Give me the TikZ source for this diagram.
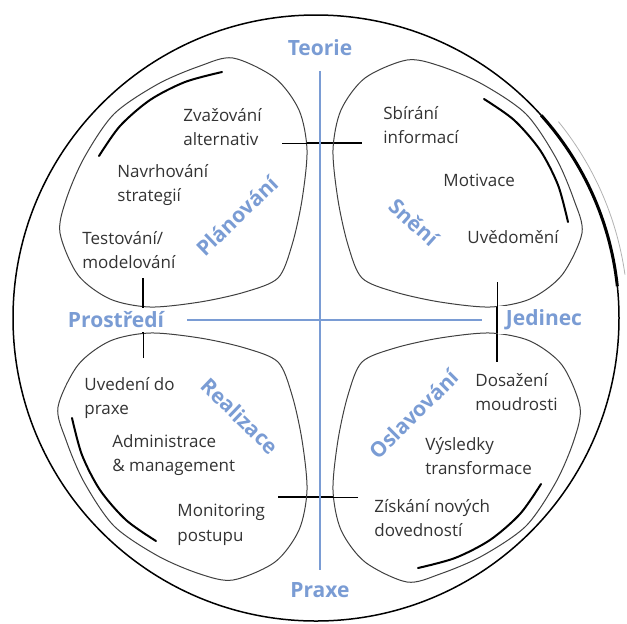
\documentclass[tikz,border=0pt]{standalone}
\usepackage{fontspec}
\setmainfont{Open Sans}
\usetikzlibrary{positioning}
\definecolor{axisblue}{RGB}{122,156,212}

\begin{document}
\begin{tikzpicture}[
    x=0.5pt, y=-0.5pt,
    item/.style={anchor=west, align=left, inner sep=0pt, font=\fontsize{8.5}{12.25}\selectfont, text=black!80},
    axislabel/.style={font=\fontsize{10.5}{12}\selectfont\bfseries, text=axisblue, fill=white, inner xsep=4pt, inner ysep=2pt},
    phase/.style={font=\fontsize{10.5}{12}\selectfont\bfseries, text=axisblue, inner sep=0pt},
    axis/.style={axisblue, line width=1pt},
    petal/.style={black!75, line width=0.5pt},
    rim/.style={black, line width=1pt, line cap=round},
    ring/.style={black, line width=0.75pt},
    tickthin/.style={black, line width=0.5pt},
    tickthick/.style={black, line width=1.3pt},
]
\useasboundingbox (0,0) rectangle (627,623);

% === OUTER RING ===
\draw[ring] (316,318) circle[radius=303];
\draw[ring, line width=1.5pt] plot[domain=6:42, samples=30] ({316+303*cos(\x)}, {318-303*sin(\x)});
\draw[gray!60, line width=0.4pt] plot[domain=8:39, samples=30] ({316+312*cos(\x)}, {318-312*sin(\x)});

% === PLANOVANI (top left) ===
\begin{scope}
  \draw[petal] plot[smooth cycle] coordinates {(233,58) (275,78) (299,110) (307,150) (302,200) (292,245) (278,278) (245,292) (200,302) (150,307) (110,299) (78,275) (60,233) (66,200) (84,158) (114,114) (158,84) (200,66)};
  \draw[rim] plot[smooth] coordinates {(222,72) (185,82) (150,100) (120,126) (99,156)};
  \coordinate (pl-a) at (282,143);
  \coordinate (pl-b) at (307,143);
  \coordinate (pl-c) at (362,143);
  \draw[tickthin] (pl-a) -- (pl-b);
  \draw[tickthick] (pl-b) -- (pl-c);
\end{scope}

% === SNENI (top right) ===
\begin{scope}[rotate around={-90:(320,320)}]
  \draw[petal] plot[smooth cycle] coordinates {(233,58) (275,78) (299,110) (307,150) (302,200) (292,245) (278,278) (245,292) (200,302) (150,307) (110,299) (78,275) (60,233) (66,200) (84,158) (114,114) (158,84) (200,66)};
  \draw[rim] plot[smooth] coordinates {(222,72) (185,82) (150,100) (120,126) (99,156)};
  \coordinate (sn-a) at (282,143);
  \coordinate (sn-b) at (307,143);
  \coordinate (sn-c) at (362,143);
  \draw[tickthin] (sn-a) -- (sn-b);
  \draw[tickthick] (sn-b) -- (sn-c);
\end{scope}

% === OSLAVOVANI (bottom right) ===
\begin{scope}[rotate around={180:(320,320)}]
  \draw[petal] plot[smooth cycle] coordinates {(233,58) (275,78) (299,110) (307,150) (302,200) (292,245) (278,278) (245,292) (200,302) (150,307) (110,299) (78,275) (60,233) (66,200) (84,158) (114,114) (158,84) (200,66)};
  \draw[rim] plot[smooth] coordinates {(222,72) (185,82) (150,100) (120,126) (99,156)};
  \coordinate (os-a) at (282,143);
  \coordinate (os-b) at (307,143);
  \coordinate (os-c) at (362,143);
  \draw[tickthin] (os-a) -- (os-b);
  \draw[tickthick] (os-b) -- (os-c);
\end{scope}

% === REALIZACE (bottom left) ===
\begin{scope}[rotate around={90:(320,320)}]
  \draw[petal] plot[smooth cycle] coordinates {(233,58) (275,78) (299,110) (307,150) (302,200) (292,245) (278,278) (245,292) (200,302) (150,307) (110,299) (78,275) (60,233) (66,200) (84,158) (114,114) (158,84) (200,66)};
  \draw[rim] plot[smooth] coordinates {(222,72) (185,82) (150,100) (120,126) (99,156)};
  \coordinate (re-a) at (282,143);
  \coordinate (re-b) at (307,143);
  \coordinate (re-c) at (362,143);
  \draw[tickthin] (re-a) -- (re-b);
  \draw[tickthick] (re-b) -- (re-c);
\end{scope}

% === AXES ===
\node[axislabel] (teorie) at (320,48) {Teorie};
\node[axislabel] (praxe) at (320,590) {Praxe};
\node[axislabel] (prostredi) at (116,320) {Prostředí};
\node[axislabel] (jedinec) at (544,320) {Jedinec};
\draw[axis, shorten <=5.25pt, shorten >=4.25pt] (teorie.south) -- (praxe.north);
\draw[axis, shorten <=7.5pt, shorten >=8pt] (prostredi.east) -- (jedinec.west);

% === PHASES ===
\node[phase, rotate=44] (planovani) at (237,216) {Plánování};
\node[phase, rotate=-42] (sneni) at (414,222) {Snění};
\node[phase, rotate=-44] (realizace) at (240,416) {Realizace};
\node[phase, rotate=45] (oslavovani) at (414,414) {Oslavování};

% === ITEMS ===
\node[item] (zvazovani) at (183,127) {Zvažování\\alternativ};
\node[item] (navrhovani) at (117,185) {Navrhování\\strategií};
\node[item] (testovani) at (82,250) {Testování/\\modelování};
\node[item] (sbirani) at (383,125) {Sbírání\\informací};
\node[item] (motivace) at (443,180) {Motivace};
\node[item] (uvedomeni) at (467,237) {Uvědomění};
\node[item] (uvedeni) at (84,398) {Uvedení do\\praxe};
\node[item] (administrace) at (112,455) {Administrace\\\& management};
\node[item] (monitoring) at (177,525) {Monitoring\\postupu};
\node[item] (dosazeni) at (475,392) {Dosažení\\moudrosti};
\node[item] (vysledky) at (425,456) {Výsledky\\transformace};
\node[item] (ziskani) at (374,518) {Získání nových\\dovedností};

\end{tikzpicture}
\end{document}
